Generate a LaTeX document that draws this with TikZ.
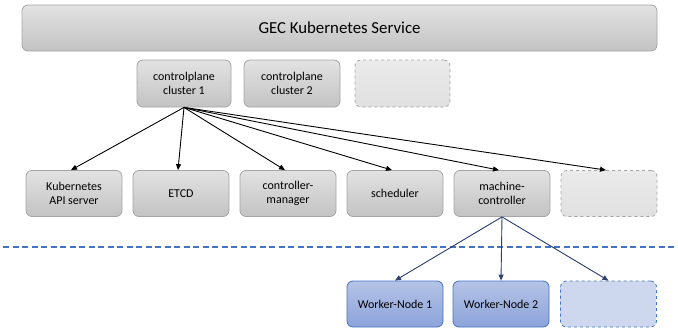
\documentclass[tikz,border=0pt]{standalone}
\usepackage{fontspec}
\setmainfont{Carlito}
\usetikzlibrary{arrows.meta,positioning}
\definecolor{boxline}{HTML}{A5A5A5}
\definecolor{boxtop}{HTML}{E2E2E2}
\definecolor{boxbot}{HTML}{C3C3C3}
\definecolor{ghosttop}{HTML}{EBEBEB}
\definecolor{ghostbot}{HTML}{E0E0E0}
\definecolor{bluline}{HTML}{4472C4}
\definecolor{blutop}{HTML}{B4C3E6}
\definecolor{blubot}{HTML}{8DA4DA}
\definecolor{blughost}{HTML}{CDD7EE}
\definecolor{navy}{HTML}{2E4172}
\tikzset{box/.style={draw=boxline,line width=0.8pt,rounded corners=6pt,align=center,
  minimum width=96pt,minimum height=46pt,inner sep=0pt,font=\fontsize{12}{14.5}\selectfont,
  top color=boxtop,bottom color=boxbot},
  ghost/.style={box,dashed,top color=ghosttop,bottom color=ghostbot},
  worker/.style={box,draw=bluline,top color=blutop,bottom color=blubot},
  wghost/.style={worker,dashed,top color=blughost,bottom color=blughost},
  flow/.style={-{Triangle[length=6pt,width=5pt]},line width=0.9pt},
  wflow/.style={flow,draw=navy,fill=navy},
  sep/.style={color=bluline,line width=1.2pt,dash pattern=on 6pt off 3.5pt}}

\begin{document}
\begin{tikzpicture}[x=1pt,y=-1pt]
\useasboundingbox (0,0) rectangle (678,332);
\node[box,minimum width=635pt,font=\fontsize{16.8}{20}\selectfont] (gks) at (339.5,28) {GEC Kubernetes Service};
\node[box,minimum width=94pt,minimum height=47pt] (cp1) at (184,83.5) {controlplane\\cluster 1};
\node[box,minimum width=96pt,minimum height=47pt] (cp2) at (292,83.5) {controlplane\\cluster 2};
\node[ghost,minimum width=95pt,minimum height=47pt] (cpx) at (402.5,83.5) {};
\node[box] (api) at (74,193.5) {Kubernetes\\API server};
\node[box] (etcd) at (181,193.5) {ETCD};
\node[box] (cm) at (288,193.5) {controller-\\manager};
\node[box] (sched) at (395,193.5) {scheduler};
\node[box] (mc) at (502,193.5) {machine-\\controller};
\node[ghost] (cmpx) at (609,193.5) {};
\node[worker] (w1) at (395,304) {Worker-Node 1};
\node[worker] (w2) at (501,304) {Worker-Node 2};
\node[wghost] (wx) at (608.5,304) {};
% control plane boundary
\coordinate (sepl) at (3,247);
\coordinate (sepr) at (675,247);
\draw[sep] (sepl) -- (sepr);
\foreach \t in {api,etcd,cm,sched,mc,cmpx}
  \draw[flow] (cp1.south) -- ([xshift=-3pt]\t.north);
\foreach \t in {w1,w2,wx}
  \draw[wflow] (mc.south) -- (\t.north);
\end{tikzpicture}
\end{document}
